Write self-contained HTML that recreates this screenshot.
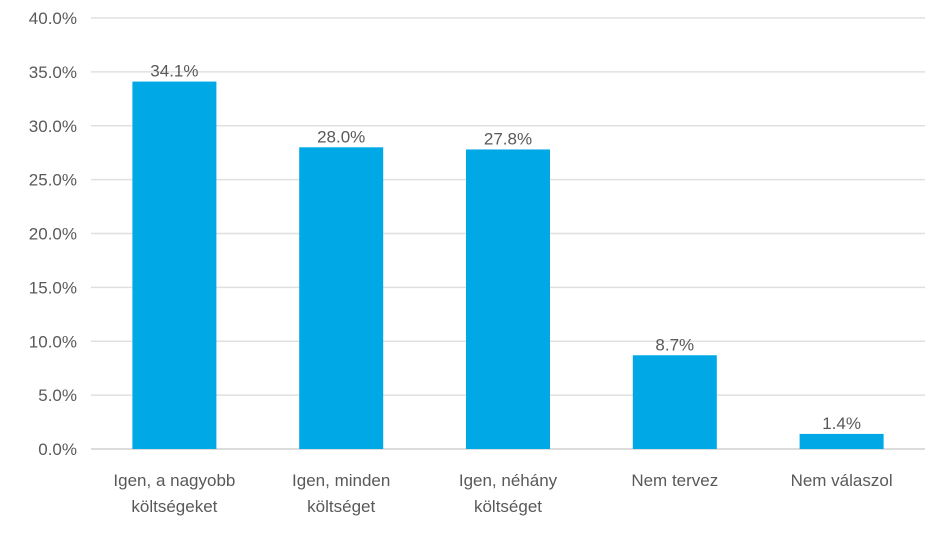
<!DOCTYPE html>
<html><head><meta charset="utf-8"><style>
body{margin:0;background:#fff;width:943px;height:540px;overflow:hidden}
svg text{font-family:"Liberation Sans",sans-serif;fill:#595959}
</style></head><body>
<svg id="chart" width="943" height="540" xmlns="http://www.w3.org/2000/svg"></svg>
<script>
const categories = [["Igen, a nagyobb","költségeket"],["Igen, minden","költséget"],["Igen, néhány","költséget"],["Nem tervez"],["Nem válaszol"]];
const values = [34.1, 28.0, 27.8, 8.7, 1.4];
const ticks = [0,5,10,15,20,25,30,35,40];
const chartSvg = document.getElementById('chart');
const SVGNS = 'http://www.w3.org/2000/svg';
const plotLeft = 91, plotRight = 925, plotTop = 18, plotBottom = 449, yMax = 40;
const yScale = v => plotBottom - (v / yMax) * (plotBottom - plotTop);
const band = (plotRight - plotLeft) / categories.length;
const xScale = i => plotLeft + band * i;
const barW = 84;
function mk(tag, attrs, text){const e=document.createElementNS(SVGNS,tag);for(const k in attrs)e.setAttribute(k,attrs[k]);if(text!==undefined)e.textContent=text;chartSvg.appendChild(e);return e;}
ticks.forEach(t=>{
  const l=mk('line',{x1:plotLeft,x2:plotRight,y1:yScale(t),y2:yScale(t),stroke:t===0?'#d0d0d0':'#e0e0e0','stroke-width':1.5});
  
  
  const tx=mk('text',{x:77,y:yScale(t)+6,'text-anchor':'end','font-size':17},t.toFixed(1)+'%');
  
  
});
values.forEach((v,i)=>{
  const cx=xScale(i)+band/2;
  const r=mk('rect',{x:cx-barW/2,y:yScale(v),width:barW,height:plotBottom-yScale(v),fill:'#00a8e6'});
  
  
  const lb=mk('text',{x:cx,y:yScale(v)-5,'text-anchor':'middle','font-size':17},v.toFixed(1)+'%');
  
  
  categories[i].forEach((line,j)=>{
    const c=mk('text',{x:cx,y:486+j*26,'text-anchor':'middle','font-size':17},line);
    
    
  });
});
</script>
</body></html>
